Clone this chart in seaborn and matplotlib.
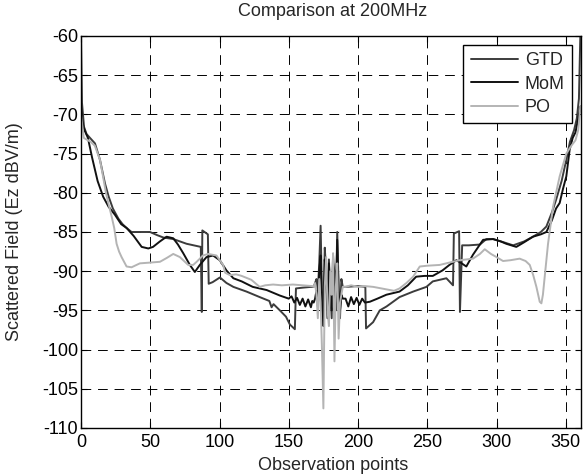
import numpy as np
import pandas as pd
import matplotlib
matplotlib.use("Agg")
import matplotlib.pyplot as plt
import seaborn as sns

# Values (observation point, field in dB)
gtd_x = [0, 0.7, 2.2, 4, 6.5, 10.1, 13.7, 17.3, 20, 23, 27, 30, 33, 36.5, 42, 49.8, 55, 59.4,
         66.6, 76.2, 86.5, 87.2, 87.6, 91.6, 92.2, 95, 100.3, 105, 110, 119.5, 129, 136, 137.6,
         139, 143.6, 148, 150.8, 154.4, 155.2, 160, 166,
         168, 169, 170, 171, 172, 173, 174, 175, 176, 177, 178, 179, 180, 181, 182, 183, 184,
         185, 186, 187, 188, 189, 190,
         191, 200, 205.3, 205.8, 210.9, 215.7, 220.6, 230, 239.8, 249.4, 254, 263.8, 268.6,
         269.2, 273, 273.6, 275.2, 280, 288, 292.7, 297.5, 305, 312, 320, 326.3, 332, 336, 340,
         343, 347, 350.4, 353, 356, 358, 359.5, 360.5]
gtd_y = [-60, -68.5, -71.6, -72.5, -73, -73.7, -75.8, -78.8, -80.5, -82, -83.3, -84, -84.5, -85,
         -85, -85, -85.4, -85.7, -85.9, -86.5, -86.9, -95.2, -84.8, -85.3, -91.6, -91.4, -90.8,
         -91.5, -92, -92.6, -93.3, -93.8, -94.6, -94.2, -95, -95.8, -96.8, -97.4, -92.2, -92.1,
         -92,
         -92, -91.5, -91, -92.5, -89, -84.2, -93, -96, -87, -90, -95, -88.5, -93, -96, -89, -90,
         -94, -85, -92, -96, -91, -92, -92,
         -92, -91.9, -92, -97.3, -96.5, -95, -94.5, -93.3, -92.6, -92, -91.3, -90.9, -91.8,
         -85.2, -84.9, -95.2, -86.7, -86.7, -86.6, -85.9, -85.9, -86.3, -86.7, -86.2, -85.6,
         -85, -84.3, -82.5, -80.9, -78.5, -75.8, -73.5, -72, -70.5, -68, -60]

mom_x = [0, 1, 2.5, 5, 8, 12, 16, 20, 24.5, 29, 33, 38, 43.8, 48.6, 52, 57, 61.8, 66.6, 70,
         73.8, 78.6, 82.2, 85.8, 90.6, 95.4, 100.2, 105, 110, 116, 124, 134, 143.5, 150, 152,
         154, 156, 158, 160, 162, 164, 166, 167,
         168, 169, 170, 171, 172, 173, 174, 175, 176, 177, 178, 179, 180, 181, 182, 183, 184,
         185, 186, 187, 188, 189, 190,
         191, 193, 195, 197, 199, 201, 203, 205, 208.5, 214, 220.5, 230, 236, 242, 248, 254,
         261, 266, 271, 274, 278.2, 283, 290.3, 297.5, 303, 307, 314.3, 320, 326.3, 332, 336,
         340, 343, 345.6, 348, 350.4, 352.8, 355, 357, 359, 360.5]
mom_y = [-69, -71, -72, -73, -75.5, -78.5, -80.5, -81.8, -82.8, -84, -84.5, -85.5, -86.9, -87.1,
         -86.9, -86.2, -85.6, -85.8, -86.6, -87.7, -89.2, -90.1, -89.2, -88.2, -88, -88.6,
         -89.9, -90.9, -91.3, -92, -92.4, -93.1, -93.5, -93.2, -94, -93.4, -94.3, -93.5, -94.5,
         -93.6, -94.6, -93.8,
         -94, -93.5, -92.5, -94.5, -90, -88, -95, -97, -88.5, -91, -96, -89, -94, -95, -88,
         -92, -95, -86, -93, -95, -93, -93.5, -93.5,
         -93.5, -94.5, -93.3, -94.2, -93.4, -94.3, -93.5, -94, -93.9, -93.5, -93, -92.6, -91.8,
         -90.7, -90.6, -90.6, -89.9, -89.2, -88.6, -88.9, -89.4, -87.9, -86, -85.9, -86.2,
         -86.5, -86.9, -86.3, -85.6, -85.3, -85, -83.5, -82, -81.3, -79.5, -77.9, -74.5, -73,
         -72.3, -70.5, -69]

po_x = [0, 1, 2, 4, 7, 10, 13.7, 16, 18, 20, 22.1, 24, 25.7, 27.5, 29.3, 32.9, 36.5, 42.5, 50,
        57, 62, 66.6, 71.4, 77.4, 81, 83.5, 85.8, 88, 91.8, 95, 97.8, 102.6, 104.1, 107.5, 112,
        116, 123, 129, 133, 138.7, 145, 153, 160, 167,
        168, 169, 170, 171, 172, 173, 174, 175, 176, 177, 178, 179, 180, 181, 182, 183, 184,
        185, 186, 187, 188, 189, 190,
        191, 195, 200, 205, 211, 220, 226, 230, 235, 239.8, 244.6, 250, 259, 266, 273.4, 283,
        288, 291.5, 296, 300, 304.7, 310, 316.7, 321, 324, 326.5, 328.8, 331.2, 332.4, 333.5,
        334.8, 337.2, 340.8, 345.6, 350.4, 354, 357, 359, 360.5]
po_y = [-70, -71.5, -73, -73.2, -73.5, -74, -75.8, -78, -80, -81.5, -83, -84.5, -86.5, -87.5,
        -88.2, -89.4, -89.5, -89, -88.9, -88.8, -88.3, -87.8, -88.2, -89.2, -89.2, -88.8,
        -88.4, -88, -87.8, -87.9, -88, -89.2, -90.2, -90.5, -90.4, -90.6, -91.1, -92, -91.8,
        -91.7, -91.8, -91.7, -91.8, -91.9,
        -92, -91.5, -93, -96, -91, -94, -100, -107.5, -92, -88.2, -95, -97, -90, -93, -87.7,
        -101.5, -92, -89, -98.6, -94, -93, -92, -92,
        -92, -91.8, -92, -91.9, -92, -92.3, -92.5, -92.2, -91.5, -90.7, -89.4, -89.3, -89.2,
        -88.9, -88.6, -88.4, -87.8, -87.2, -87.8, -88.2, -88.7, -88.6, -88.4, -88.7, -89.2,
        -90.5, -92, -93.9, -94.1, -93, -90.7, -86.5, -81.8, -77.9, -75, -74, -73.3, -72, -69]

series = {"GTD": (gtd_x, gtd_y), "MoM": (mom_x, mom_y), "PO": (po_x, po_y)}
colors = {"GTD": "#3c3c3c", "MoM": "#111111", "PO": "#b4b4b4"}

sns.set_style("ticks")
plt.rcParams["font.family"] = ["Liberation Sans", "DejaVu Sans"]
plt.rcParams["axes.unicode_minus"] = False

fig = plt.figure(figsize=(5.86, 4.75), dpi=100)
ax = fig.add_axes([81 / 586, 47 / 475, 500 / 586, 392 / 475])

for name, (xs, ys) in series.items():
    df = pd.DataFrame({"x": xs, "y": ys})
    sns.lineplot(data=df, x="x", y="y", ax=ax, color=colors[name], linewidth=1.4,
                 label=name, sort=False, estimator=None)

ax.set_xlim(0, 361)
ax.set_ylim(-110, -60)
ax.set_xticks(np.arange(0, 351, 50))
ax.set_yticks(np.arange(-110, -59, 5))
ax.grid(True, color="black", linestyle=(0, (10, 7)), linewidth=0.7)
ax.tick_params(direction="in", length=4, width=0.8, top=True, right=True,
               labelsize=13, pad=2, colors="black")
ax.tick_params(axis="x", pad=4)
for sp in ax.spines.values():
    sp.set_linewidth(1.0)
    sp.set_color("black")
    sp.set_visible(True)

ax.set_xlabel("")
ax.set_ylabel("")
fig.text(333 / 586, 1 - 12 / 475, "Comparison at 200MHz", ha="center", va="center", fontsize=13)
fig.text(333 / 586, 1 - 465 / 475, "Observation points", ha="center", va="center", fontsize=13)
fig.text(15 / 586, 1 - 232 / 475, "Scattered Field (Ez dBV/m)", ha="center", va="center",
         rotation=90, fontsize=13)

leg = ax.legend(loc="upper right", fontsize=13, frameon=True, fancybox=False,
                edgecolor="black", framealpha=1, borderaxespad=0.5, handlelength=2.6,
                labelspacing=0.35, handletextpad=0.4, borderpad=0.4)
leg.get_frame().set_linewidth(1.0)

fig.savefig("out.png", dpi=100)
